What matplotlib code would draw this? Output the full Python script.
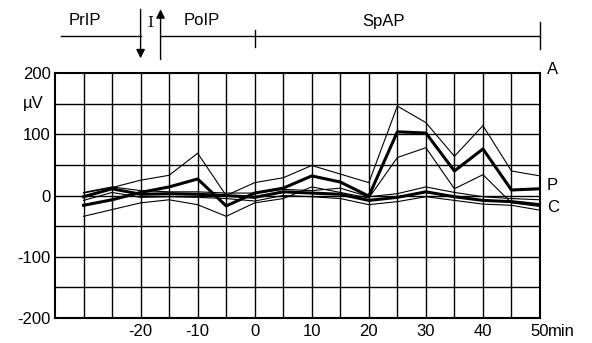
import matplotlib
matplotlib.use("Agg")
import matplotlib.pyplot as plt

plt.rcParams['font.family'] = ['Liberation Sans', 'DejaVu Sans']
plt.rcParams['axes.unicode_minus'] = False

# time (min) relative to the start of SpAP
minutes = [-30, -25, -20, -15, -10, -5, 0, 5, 10, 15, 20, 25, 30, 35, 40, 45, 50]

# curve P: mean and +/- band (µV)
p_mean = [-16, -7, 5, 14, 27, -17, 4, 12, 32, 22, -1, 104, 102, 40, 76, 9, 11]
p_upper = [4, 13, 25, 33, 69, 0, 21, 29, 49, 35, 21, 146, 119, 64, 114, 40, 32]
p_lower = [-34, -23, -12, -7, -15, -34, -12, -5, 14, 5, -4, 62, 78, 11, 34, -12, -18]

# curve C: mean and +/- band (µV)
c_mean = [-2, 11, 2, 3, 2, 0, -3, 6, 4, 2, -8, -3, 6, -2, -8, -10, -15]
c_upper = [5, 14, 8, 6, 6, 4, 4, 10, 8, 12, -2, 3, 14, 5, -2, -5, -7]
c_lower = [-8, 5, -3, -2, -3, -5, -9, 0, -2, -5, -15, -10, -2, -8, -14, -16, -24]

xticks = [-20, -10, 0, 10, 20, 30, 40, 50]
yticks = [-200, -100, 0, 100, 200]

fig = plt.figure(figsize=(5.92, 3.43), dpi=100)
ax = fig.add_axes([55 / 592, 1 - 318 / 343, 485 / 592, 245 / 343])

# grid every 5 min and 50 µV
for gx in range(-30, 50, 5):
    ax.axvline(gx, color='black', lw=1.0, zorder=1)
for gy in range(-150, 200, 50):
    ax.axhline(gy, color='black', lw=1.0, zorder=1)

# the curves
ax.plot(minutes, p_upper, color='black', lw=0.8, zorder=3)
ax.plot(minutes, p_lower, color='black', lw=0.8, zorder=3)
ax.plot(minutes, p_mean, color='black', lw=2.2, zorder=4)
ax.plot(minutes, c_upper, color='black', lw=0.8, zorder=3)
ax.plot(minutes, c_lower, color='black', lw=0.8, zorder=3)
ax.plot(minutes, c_mean, color='black', lw=2.2, zorder=4)

ax.set_xlim(-35, 50)
ax.set_ylim(-200, 200)
for s in ax.spines.values():
    s.set_linewidth(1.5)

ax.set_xticks(xticks)
ax.set_xticklabels([str(t) for t in xticks])
ax.set_yticks(yticks)
ax.set_yticklabels([str(t) for t in yticks])
ax.tick_params(length=0, labelsize=12, pad=4)
ax.tick_params(axis='y', pad=3)

trans = ax.get_xaxis_transform()
ax.annotate("min", xy=(50, 0), xycoords=trans, xytext=(5.5, -4),
            textcoords='offset points', ha='left', va='top', fontsize=12)
ax.text(-38.8, 150, "µV", ha='center', va='center', fontsize=12)

# curve labels on the right
ax.text(51.2, 206, "A", ha='left', va='center', fontsize=12)
ax.text(51.2, 17, "P", ha='left', va='center', fontsize=12)
ax.text(51.2, -20, "C", ha='left', va='center', fontsize=12)

# period bar above the chart
ax.plot([-34, -20], [1.151, 1.151], transform=trans, color='black', lw=1, clip_on=False)
ax.plot([-16.5, 50], [1.151, 1.151], transform=trans, color='black', lw=1, clip_on=False)
ax.plot([0, 0], [1.106, 1.176], transform=trans, color='black', lw=1, clip_on=False)
ax.plot([50, 50], [1.098, 1.21], transform=trans, color='black', lw=1, clip_on=False)
ax.annotate("", xy=(-20, 1.06), xytext=(-20, 1.26), xycoords=trans,
            arrowprops=dict(arrowstyle='-|>', color='black', lw=1, mutation_scale=13,
                            shrinkA=0, shrinkB=0))
ax.annotate("", xy=(-16.5, 1.26), xytext=(-16.5, 1.055), xycoords=trans,
            arrowprops=dict(arrowstyle='-|>', color='black', lw=1, mutation_scale=13,
                            shrinkA=0, shrinkB=0))
ax.text(-18.3, 1.205, "I", transform=trans, ha='center', va='center',
        fontsize=11, family='DejaVu Serif')
ax.text(-29.7, 1.215, "PrIP", transform=trans, ha='center', va='center', fontsize=12)
ax.text(-9.3, 1.215, "PoIP", transform=trans, ha='center', va='center', fontsize=12)
ax.text(22.5, 1.21, "SpAP", transform=trans, ha='center', va='center', fontsize=12)

fig.savefig("out.png", dpi=100)
